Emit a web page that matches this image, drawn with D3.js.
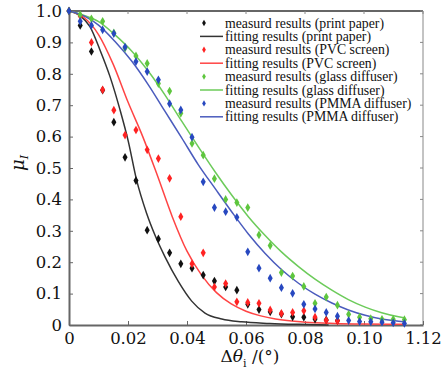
<!DOCTYPE html>
<html>
<head>
<meta charset="utf-8">
<script src="https://cdn.jsdelivr.net/npm/d3@7"></script>
<style>
  body { margin: 0; background: #fff; }
  svg { display: block; }
</style>
</head>
<body>
<svg id="chart" width="448" height="375"></svg>
<script>
// measured angles (shared by all four measured series)
var angles = [0, 0.0038, 0.0076, 0.0114, 0.0152, 0.0190, 0.0227, 0.0265, 0.0303, 0.0341,
  0.0379, 0.0417, 0.0455, 0.0493, 0.0531, 0.0569, 0.0606, 0.0644, 0.0682, 0.0720,
  0.0758, 0.0796, 0.0834, 0.0872, 0.0910, 0.0948, 0.0985, 0.1023, 0.1061, 0.1099, 0.1137];

var paperMeas = [1.0, 0.954, 0.871, 0.748, 0.646, 0.534, 0.460, 0.302, 0.274, 0.230,
  0.195, 0.181, 0.159, 0.140, 0.121, 0.111, 0.066, 0.049, 0.042, 0.035,
  0.026, 0.025, 0.019, 0.016, 0.014];
var pvcMeas = [1.0, 0.984, 0.900, 0.749, 0.684, 0.605, 0.621, 0.558, 0.530, 0.467,
  0.345, 0.195, 0.230, 0.121, 0.132, 0.074, 0.072, 0.069, 0.048, 0.037,
  0.040, 0.045, 0.025, 0.015, 0.013];
var glassMeas = [1.0, 0.988, 0.975, 0.967, 0.930, 0.882, 0.857, 0.833, 0.769, 0.745,
  0.674, 0.578, 0.541, 0.466, 0.400, 0.390, 0.374, 0.287, 0.253, 0.167,
  0.156, 0.123, 0.069, 0.089, 0.063, 0.034, 0.025, 0.020, 0.018, 0.018, 0.017];
var pmmaMeas = [1.0, 0.967, 0.954, 0.940, 0.928, 0.885, 0.839, 0.807, 0.781, 0.705,
  0.685, 0.598, 0.456, 0.374, 0.361, 0.343, 0.233, 0.181, 0.149, 0.119,
  0.101, 0.066, 0.051, 0.040, 0.028, 0.014, 0.011, 0.010, 0.009, 0.007, 0.005];

// fitted curves as [angle, value]
var paperFit = [[0, 1], [0.0037, 0.985], [0.0071, 0.95], [0.0105, 0.876], [0.0139, 0.791],
  [0.0173, 0.685], [0.0201, 0.585], [0.0229, 0.462], [0.0263, 0.356], [0.0292, 0.285],
  [0.0325, 0.218], [0.0371, 0.138], [0.0416, 0.076], [0.0461, 0.038], [0.0518, 0.019],
  [0.0585, 0.010], [0.068, 0.005], [0.078, 0.002], [0.088, 0.0]];
var pvcFit = [[0, 1], [0.005, 0.98], [0.01, 0.925], [0.015, 0.83], [0.02, 0.71],
  [0.025, 0.60], [0.03, 0.475], [0.035, 0.345], [0.04, 0.235], [0.045, 0.158],
  [0.05, 0.103], [0.055, 0.067], [0.06, 0.044], [0.065, 0.029], [0.07, 0.019],
  [0.08, 0.009], [0.09, 0.005], [0.1, 0.003], [0.1137, 0.002]];
var glassFit = [[0, 1], [0.0054, 0.985], [0.0099, 0.967], [0.0156, 0.924], [0.0213, 0.872],
  [0.0269, 0.808], [0.0325, 0.733], [0.0382, 0.649], [0.0438, 0.568], [0.0495, 0.488],
  [0.0552, 0.413], [0.0608, 0.345], [0.0665, 0.285], [0.0721, 0.232], [0.0778, 0.186],
  [0.0834, 0.146], [0.0891, 0.111], [0.0947, 0.081], [0.1004, 0.057], [0.106, 0.039],
  [0.1117, 0.026], [0.1139, 0.022]];
var pmmaFit = [[0, 1], [0.0054, 0.983], [0.0099, 0.956], [0.0156, 0.903], [0.0213, 0.840],
  [0.0269, 0.765], [0.0325, 0.681], [0.0382, 0.596], [0.0438, 0.511], [0.0495, 0.435],
  [0.0552, 0.36], [0.0608, 0.29], [0.0665, 0.228], [0.0721, 0.176], [0.0778, 0.133],
  [0.0834, 0.098], [0.0891, 0.070], [0.0947, 0.048], [0.1004, 0.031], [0.106, 0.019],
  [0.1117, 0.012], [0.1139, 0.010]];

var xTicks = [0, 0.02, 0.04, 0.06, 0.08, 0.10, 0.12];
var xTickLabels = ["0", "0.02", "0.04", "0.06", "0.08", "0.10", "1.12"];
var yTicks = [0, 0.1, 0.2, 0.3, 0.4, 0.5, 0.6, 0.7, 0.8, 0.9, 1.0];
var yTickLabels = ["0", "0.1", "0.2", "0.3", "0.4", "0.5", "0.6", "0.7", "0.8", "0.9", "1.0"];

var legendLabels = [
  "measurd results (print paper)", "fitting results (print paper)",
  "measurd results (PVC screen)", "fitting results (PVC screen)",
  "measurd results (glass diffuser)", "fitting results (glass diffuser)",
  "measurd results (PMMA diffuser)", "fitting results (PMMA diffuser)"
];

var series = [
  {meas: paperMeas, fit: paperFit, point: "#111", line: "#333"},
  {meas: pvcMeas, fit: pvcFit, point: "#f22", line: "#f44"},
  {meas: glassMeas, fit: glassFit, point: "#5ec63e", line: "#6ccb5a"},
  {meas: pmmaMeas, fit: pmmaFit, point: "#2748c0", line: "#4a5bbd"}
];

drawChart();

function drawChart() {
  var m = {left: 69, right: 423, top: 11, bottom: 325};
  var svg = d3.select("#chart");

  var x = d3.scaleLinear().domain([0, 0.12]).range([m.left, m.right]);
  var y = d3.scaleLinear().domain([0, 1]).range([m.bottom, m.top]);

  var serif = "'DejaVu Serif', serif";

  // frame: top and right
  svg.append("line").attr("x1", m.left).attr("x2", m.right).attr("y1", m.top).attr("y2", m.top)
     .attr("stroke", "#333").attr("stroke-width", 1.5);
  svg.append("line").attr("x1", m.right).attr("x2", m.right).attr("y1", m.top).attr("y2", m.bottom)
     .attr("stroke", "#888").attr("stroke-width", 1);
  svg.selectAll(".rtick").data(yTicks).enter().append("line")
     .attr("x1", m.right).attr("x2", m.right - 3)
     .attr("y1", d => y(d)).attr("y2", d => y(d))
     .attr("stroke", "#888");
  svg.selectAll(".ttick").data(xTicks).enter().append("line")
     .attr("x1", d => x(d)).attr("x2", d => x(d))
     .attr("y1", m.top).attr("y2", m.top + 3)
     .attr("stroke", "#888");

  // axes
  var gx = svg.append("g")
      .attr("transform", "translate(0," + m.bottom + ")")
      .call(d3.axisBottom(x).tickValues(xTicks).tickFormat((d, i) => xTickLabels[i])
        .tickSizeInner(-4).tickSizeOuter(0).tickPadding(7));
  var gy = svg.append("g")
      .attr("transform", "translate(" + m.left + ",0)")
      .call(d3.axisLeft(y).tickValues(yTicks).tickFormat((d, i) => yTickLabels[i])
        .tickSizeInner(-4).tickSizeOuter(0).tickPadding(7));
  [gx, gy].forEach(g => {
    g.select(".domain").attr("stroke", "#666").attr("stroke-width", 2);
    g.selectAll(".tick line").attr("stroke", "#666");
    g.selectAll(".tick text").attr("font-family", serif).attr("font-size", 16.5).attr("fill", "#111");
  });

  // fitted lines
  var line = d3.line().x(d => x(d[0])).y(d => y(d[1])).curve(d3.curveMonotoneX);
  series.forEach(s => {
    svg.append("path")
       .datum(s.fit)
       .attr("d", line)
       .attr("fill", "none")
       .attr("stroke", s.line)
       .attr("stroke-width", 1.5);
  });

  // measured points
  var diamond = d3.symbol().type(d3.symbolDiamond).size(22);
  series.forEach(s => {
    svg.append("g").selectAll("path")
       .data(s.meas)
       .enter().append("path")
       .attr("d", diamond)
       .attr("transform", (d, i) => "translate(" + x(angles[i]) + "," + y(d) + ")")
       .attr("fill", s.point);
  });

  // legend
  var leg = svg.append("g");
  legendLabels.forEach((label, i) => {
    var s = series[Math.floor(i / 2)];
    var ly = 23 + i * 13.4;
    if (i % 2 == 0) {
      leg.append("path").attr("d", d3.symbol().type(d3.symbolDiamond).size(12))
         .attr("transform", "translate(204," + ly + ")").attr("fill", s.point);
    } else {
      leg.append("line").attr("x1", 200).attr("x2", 223).attr("y1", ly).attr("y2", ly)
         .attr("stroke", s.line).attr("stroke-width", 1.5);
    }
    leg.append("text").attr("x", 225).attr("y", ly + 4.5)
       .attr("font-family", "'Liberation Serif', serif").attr("font-size", 13.8)
       .attr("fill", "#111").text(label);
  });

  // axis titles
  var xt = svg.append("text").attr("x", 250).attr("y", 362)
      .attr("text-anchor", "middle").attr("font-family", serif).attr("font-size", 17).attr("fill", "#111");
  xt.append("tspan").text("Δ");
  xt.append("tspan").attr("font-style", "italic").text("θ");
  xt.append("tspan").attr("font-size", 11).attr("dy", 5).text("i");
  xt.append("tspan").attr("dy", -5).text(" /(°)");

  var yt = svg.append("text").attr("transform", "translate(24,163) rotate(-90)")
      .attr("text-anchor", "middle").attr("font-family", serif).attr("font-size", 18).attr("fill", "#111");
  yt.append("tspan").attr("font-style", "italic").text("μ");
  yt.append("tspan").attr("font-style", "italic").attr("font-size", 11).attr("dy", 4).text("I");
}
</script>
</body>
</html>
